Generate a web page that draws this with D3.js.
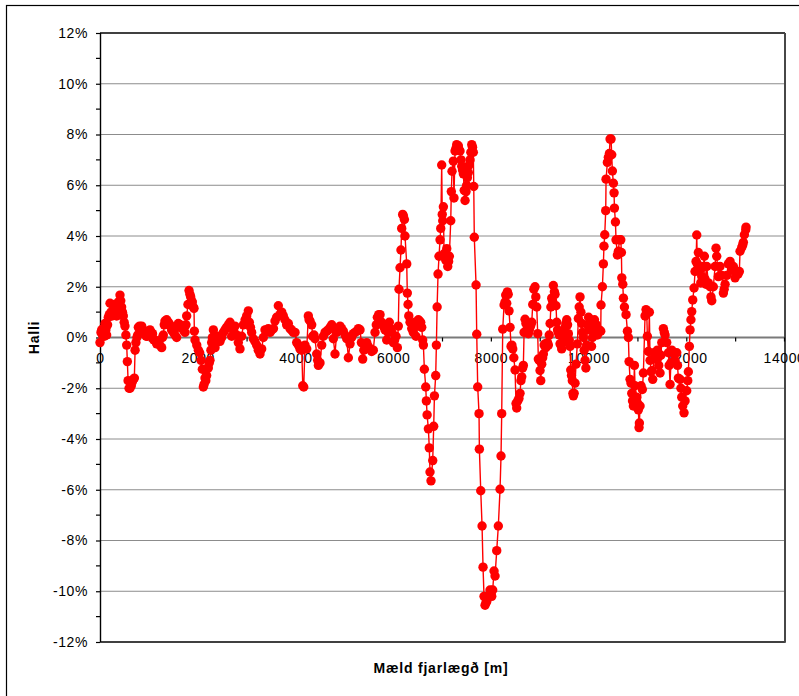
<!DOCTYPE html>
<html>
<head>
<meta charset="utf-8">
<script src="https://cdn.jsdelivr.net/npm/d3@7"></script>
<style>
  html, body { margin: 0; padding: 0; background: #fff; }
  svg { display: block; font-family: Arial, "Liberation Sans", sans-serif; }
</style>
</head>
<body>
<svg id="chart" width="799" height="696"></svg>
<script>
// Road gradient profile: measured distance [m] and slope [%]
const xTicks = [0, 1000, 2000, 3000, 4000, 5000, 6000, 7000, 8000, 9000, 10000, 11000, 12000, 13000, 14000];
const yTicks = [-12, -10, -8, -6, -4, -2, 0, 2, 4, 6, 8, 10, 12];
const yMinorTicks = [-11, -9, -7, -5, -3, -1, 1, 3, 5, 7, 9, 11];
const xTitle = "Mæld fjarlægð [m]";
const yTitle = "Halli";

const profileA = [
  [0,-0.2],[20,0.2],[34,0.3],[50,0.1],[68,0.35],[90,0.05],[102,0.55],[120,0.3],[136,0.1],[155,0.5],
  [170,0.8],[190,0.9],[205,1.35],[225,1.0],[245,0.85],[273,0.95],[290,1.3],[307,1.15],[325,0.9],[341,0.85],
  [360,1.1],[375,1.4],[395,1.3],[409,1.67],[425,1.45],[443,1.2],[460,1.0],[477,0.85],[495,0.6],[511,0.45],
  [530,0.1],[546,-0.3],[560,-0.95],[575,-1.7],[595,-2.0],[615,-2.0],[640,-1.9],[660,-1.75],[682,-1.65],[703,-1.6],
  [718,-0.5],[735,-0.2],[755,0.0],[771,0.1],[785,0.4],[810,0.45],[835,0.35],[853,0.45],[880,0.3],[900,0.2],
  [921,0.2],[945,0.05],[970,0.05],[1000,0.25],[1023,0.3],[1050,0.2],[1075,0.15],[1100,-0.1],[1126,-0.1],[1160,-0.25],
  [1190,-0.2],[1225,-0.3],[1262,-0.4],[1280,0.0],[1296,0.1],[1315,0.5],[1330,0.65],[1350,0.6],[1365,0.7],[1400,0.6],
  [1433,0.5],[1465,0.3],[1501,0.2],[1535,0.1],[1569,0.0],[1590,0.4],[1603,0.55],[1640,0.5],[1672,0.45],[1705,0.3],
  [1740,0.2],[1760,0.5],[1774,0.85],[1800,1.3],[1822,1.85],[1840,1.7],[1856,1.6],[1875,1.45],[1890,1.4],[1910,1.2],
  [1924,1.15],[1931,0.25],[1945,-0.1],[1980,-0.3],[2013,-0.5],[2040,-0.6],[2068,-0.9],[2095,-1.25],[2115,-1.95],[2130,-1.85],
  [2149,-1.6],[2165,-1.7],[2183,-1.5],[2200,-1.2],[2217,-1.2],[2235,-1.0],[2251,-0.9],[2270,-0.5],[2286,-0.2],[2300,0.0],
  [2320,0.3],[2354,-0.4],[2380,-0.2],[2408,0.0],[2430,0.05],[2456,-0.15],[2490,0.0],[2525,0.2],[2558,0.3],[2590,0.4],
  [2627,0.5],[2661,0.6],[2695,0.05],[2730,0.3],[2763,0.45],[2800,0.1],[2831,-0.2],[2865,-0.45],[2900,0.05],[2934,0.5],
  [2970,0.7],[3002,0.85],[3036,1.05],[3057,0.6],[3080,0.4],[3104,0.2],[3138,-0.05],[3170,-0.15],[3206,-0.3],[3240,-0.5],
  [3275,-0.65],[3309,-0.45],[3343,0.0],[3377,0.3],[3410,0.25],[3445,0.35],[3480,0.2],[3514,0.3],[3550,0.35],[3582,0.65],
  [3615,0.8],[3650,1.25],[3684,0.9],[3720,1.0],[3752,0.85],[3785,0.7],[3820,0.5],[3855,0.55],[3889,0.35],[3920,0.3],
  [3957,0.2]
];

const profileB = [
  [3992,0.2],[4026,-0.2],[4060,-0.3],[4094,-0.45],[4130,-0.5],[4150,-1.9],[4170,-1.95],[4196,-0.3],[4231,-0.45],[4264,0.85],
  [4280,0.7],[4299,0.65],[4333,0.5],[4353,0.05],[4380,0.1],[4401,-0.05],[4435,-0.65],[4455,-0.9],[4470,-1.1],[4503,-1.0],
  [4538,-0.3],[4571,0.05],[4606,0.2],[4640,0.25],[4673,0.3],[4710,0.4],[4743,0.5],[4776,-0.05],[4810,-0.65],[4845,0.2],
  [4880,0.35],[4913,0.45],[4945,0.35],[4980,0.25],[5015,0.1],[5050,-0.05],[5083,-0.8],[5118,-0.25],[5150,0.0],[5185,0.15],
  [5220,0.2],[5255,0.25],[5290,0.35],[5322,0.3],[5350,-0.2],[5377,-0.85],[5400,-0.5],[5425,-0.3],[5459,-0.2],[5490,-0.35],
  [5527,-0.45],[5560,-0.55],[5594,-0.5],[5629,0.2],[5655,0.5],[5677,0.8],[5705,0.9],[5732,0.9],[5766,0.6],[5800,0.45],
  [5834,0.3],[5868,-0.1],[5895,0.2],[5922,0.6],[5950,0.35],[5971,0.2],[6004,-0.2],[6030,-0.1],[6059,0.05],[6086,-0.4],
  [6106,0.45],[6120,1.9],[6141,2.75],[6160,3.45],[6175,4.3],[6195,4.85],[6209,4.8],[6230,4.65],[6243,4.0],[6278,2.9],
  [6290,1.75],[6305,1.3],[6320,0.85],[6346,0.6],[6380,0.35],[6413,0.2],[6448,0.6],[6468,0.05],[6490,0.45],[6516,0.7],
  [6540,0.65],[6564,0.6],[6585,0.4],[6605,-0.1],[6619,-0.3],[6639,-1.25],[6667,-1.95],[6680,-2.5],[6695,-3.05],[6721,-3.6],
  [6740,-4.35],[6755,-5.3],[6775,-5.65],[6810,-4.85],[6830,-3.5],[6845,-2.3],[6871,-1.5],[6885,-0.3],[6900,1.2],[6919,2.5],
  [6939,3.2],[6960,3.85],[6974,4.3],[6994,6.8],[7005,4.85],[7015,4.6],[7028,5.15],[7042,3.3],[7060,3.25],[7076,3.05],
  [7097,3.5],[7117,2.8],[7135,3.0],[7150,3.2],[7179,4.6],[7191,5.75],[7205,6.55],[7232,6.95],[7245,5.5],[7267,7.35]
];

const profileC = [
  [7285,7.45],[7301,7.6],[7320,7.5],[7335,7.55],[7350,7.4],[7369,7.35],[7390,7.0],[7404,6.75],[7420,6.6],[7437,6.45],
  [7455,5.8],[7472,5.4],[7492,5.75],[7505,6.0],[7519,6.3],[7539,6.5],[7555,6.8],[7574,7.0],[7590,7.3],[7609,7.6],
  [7625,7.5],[7641,7.3],[7650,5.95],[7661,3.95],[7697,2.07],[7711,0.13],[7731,-1.95],[7758,-3.0],[7765,-4.4],[7793,-6.04],
  [7820,-7.43],[7840,-9.05],[7860,-10.2],[7881,-10.55],[7900,-10.45],[7916,-10.4],[7949,-10.2],[7983,-9.95],[8000,-10.1],[8018,-10.2],
  [8038,-9.95],[8065,-9.2],[8086,-9.4],[8120,-8.4],[8153,-7.43],[8188,-5.98],[8208,-4.67],[8222,-3.0],[8243,0.33],[8270,1.28],
  [8290,1.4],[8304,1.67],[8325,1.35],[8338,1.8],[8355,1.7],[8372,1.05],[8393,0.4],[8413,-0.35],[8430,-0.3],[8448,-0.45],
  [8470,-0.8],[8495,-1.28],[8515,-2.6],[8529,-2.78],[8550,-2.5],[8575,-2.4],[8597,-2.2],[8615,-1.7],[8632,-1.55],[8650,-1.2],
  [8665,-1.1],[8680,0.2],[8700,0.72],[8718,0.55],[8734,0.3],[8750,0.35],[8768,0.15],[8785,0.3],[8802,0.4],[8820,0.5],
  [8837,0.6],[8857,1.3],[8880,1.9],[8904,2.0],[8920,1.6],[8939,1.2],[8959,0.15],[8972,-0.85],[8990,-0.9],[9007,-1.3],
  [9021,-1.7],[9041,-1.05],[9060,-0.8],[9075,-0.65],[9090,-0.3],[9109,-0.25],[9125,-0.4],[9143,-0.3],[9160,-0.2],[9177,-0.3],
  [9195,0.1],[9212,0.55],[9228,1.2],[9246,1.55],[9262,1.45],[9279,2.05],[9300,1.8],[9314,1.7],[9334,1.25],[9348,0.6],
  [9365,0.3],[9381,0.2],[9400,0.1],[9416,-0.25],[9435,-0.3],[9450,-0.45],[9468,-0.2],[9484,0.0],[9500,0.2],[9519,0.4],
  [9535,0.55],[9553,0.7],[9570,0.5],[9586,0.15],[9605,-0.1],[9621,-0.35],[9635,-1.28],[9650,-1.5],[9668,-1.7],[9680,-2.2],
  [9689,-2.3],[9705,-2.2],[9723,-1.8],[9743,-1.05],[9770,-0.25],[9791,0.75],[9808,1.2],[9825,1.6],[9843,1.0],[9860,0.55],
  [9876,0.2],[9893,0.0],[9910,-0.5],[9928,-0.9]
];

const profileD = [
  [9945,-1.2],[9960,-0.3],[9980,0.5],[10000,0.8],[10020,0.3],[10040,0.6],[10060,-0.35],[10080,0.0],[10100,0.45],[10120,0.7],
  [10140,0.3],[10160,0.5],[10180,0.1],[10200,0.2],[10220,0.3],[10249,0.25],[10255,1.28],[10283,2.0],[10303,2.9],[10315,3.6],
  [10331,4.05],[10351,5.0],[10358,6.24],[10385,6.9],[10405,7.1],[10426,7.25],[10440,7.82],[10460,7.82],[10474,7.2],[10487,6.56],
  [10508,6.08],[10522,5.7],[10529,5.1],[10550,4.55],[10562,3.85],[10590,3.25],[10610,3.4],[10631,3.85],[10659,3.85],[10672,3.35],
  [10680,2.35],[10700,2.1],[10713,1.55],[10734,1.2],[10767,0.9],[10795,0.25],[10815,0.0],[10829,-0.95],[10849,-1.65],[10870,-1.8],
  [10884,-2.2],[10900,-2.5],[10917,-2.7],[10938,-1.1],[10951,-1.9],[10986,-2.35],[11005,-2.6],[11019,-2.85],[11033,-3.55],[11040,-3.37],
  [11054,-2.7],[11074,-1.9],[11101,-2.05],[11122,-1.4],[11156,0.85],[11176,1.1],[11191,0.95],[11203,0.05],[11224,-0.55],[11244,1.0],
  [11259,-0.9],[11279,-1.35],[11300,-1.3],[11313,-1.65],[11340,-0.6],[11360,-0.7],[11381,-0.85],[11408,-0.5],[11420,-0.8],[11436,-1.1],
  [11463,-1.4],[11480,-0.7],[11498,-0.2],[11531,0.35],[11550,0.2],[11566,0.1],[11600,-0.2],[11634,-0.6],[11650,-1.1],[11668,-1.85],
  [11685,-1.0],[11703,-0.5],[11736,-0.6],[11770,-0.9],[11805,-0.6],[11820,-1.1],[11838,-1.6],[11873,-1.65],[11890,-2.0],[11907,-2.35],
  [11927,-2.7],[11954,-2.97],[11975,-2.5],[12009,-2.1],[12030,-1.7],[12042,-1.35],[12063,-0.35],[12077,0.3],[12095,0.7],[12111,1.02],
  [12132,1.48],[12159,1.95],[12179,2.6],[12200,3.0],[12214,4.04],[12226,2.9],[12247,3.35],[12268,2.6],[12296,2.15],[12316,2.4],
  [12349,2.8],[12370,3.2],[12384,2.3],[12400,2.1],[12419,2.8],[12452,2.15],[12487,2.0],[12505,1.6],[12521,1.45],[12554,2.0],
  [12589,2.8],[12609,3.52],[12623,3.2],[12657,2.4],[12691,2.8],[12726,2.45],[12759,1.75],[12775,1.9],[12794,2.1],[12828,2.45],
  [12861,2.9],[12896,3.0],[12931,2.65],[12964,2.8],[12998,2.35],[13033,2.55],[13060,2.5],[13086,2.6],[13100,3.4],[13135,3.55],
  [13155,3.65],[13168,3.75],[13189,4.05],[13217,4.25],[13223,4.35]
];

const profile = profileA.concat(profileB, profileC, profileD)
  .map(([distance, slope]) => ({ distance, slope }));

const svg = d3.select("#chart");
const plot = { left: 100, right: 784, top: 33, bottom: 642 };

const x = d3.scaleLinear().domain([0, 14000]).range([plot.left, plot.right]);
const y = d3.scaleLinear().domain([-12, 12]).range([plot.bottom, plot.top]);

// chart frame
svg.append("rect")
  .attr("x", 6.5).attr("y", 5.5)
  .attr("width", 820).attr("height", 720)
  .attr("fill", "#fff").attr("stroke", "#000").attr("stroke-width", 1.2);

// horizontal gridlines
svg.append("g")
  .selectAll("line")
  .data(yTicks.filter(v => v !== 0 && Math.abs(v) !== 12))
  .join("line")
  .attr("x1", plot.left).attr("x2", plot.right)
  .attr("y1", d => y(d)).attr("y2", d => y(d))
  .attr("stroke", "#8c8c8c").attr("stroke-width", 1);

// plot area border
svg.append("line")
  .attr("x1", plot.left).attr("x2", plot.right + 1)
  .attr("y1", plot.top).attr("y2", plot.top)
  .attr("stroke", "#000").attr("stroke-width", 1.4);
svg.append("line")
  .attr("x1", plot.left).attr("x2", plot.right + 1)
  .attr("y1", plot.bottom).attr("y2", plot.bottom)
  .attr("stroke", "#000").attr("stroke-width", 1.4);
svg.append("line")
  .attr("x1", plot.right + 1).attr("x2", plot.right + 1)
  .attr("y1", plot.top).attr("y2", plot.bottom + 0.7)
  .attr("stroke", "#474747").attr("stroke-width", 2);

// horizontal axis line at 0 %
svg.append("line")
  .attr("x1", plot.left).attr("x2", plot.right)
  .attr("y1", y(0)).attr("y2", y(0))
  .attr("stroke", "#7a7a7a").attr("stroke-width", 2);

// vertical axis
const yAxis = d3.axisLeft(y)
  .tickValues(yTicks)
  .tickFormat(d => d + "%")
  .tickSize(4)
  .tickPadding(8);
const gy = svg.append("g")
  .attr("transform", `translate(${plot.left},0)`)
  .call(yAxis);
gy.select(".domain").attr("stroke", "#000").attr("stroke-width", 1.4).attr("d", `M0.5,${plot.top}V${plot.bottom}`);
gy.selectAll(".tick line").attr("stroke", "#000").attr("stroke-width", 1.2);
gy.selectAll(".tick text")
  .attr("font-size", 14).attr("letter-spacing", 0.6).attr("fill", "#000")
  .attr("font-family", "Arial, 'Liberation Sans', sans-serif");

gy.append("g")
  .selectAll("line")
  .data(yMinorTicks)
  .join("line")
  .attr("x1", -4).attr("x2", 0)
  .attr("y1", d => y(d)).attr("y2", d => y(d))
  .attr("stroke", "#000").attr("stroke-width", 1.2);

// horizontal axis ticks and labels along the 0 % line
const xAxis = d3.axisBottom(x)
  .tickValues(xTicks)
  .tickFormat(d => d % 2000 === 0 ? String(d) : "")
  .tickSize(4)
  .tickPadding(12);
const gx = svg.append("g")
  .attr("transform", `translate(0,${y(0)})`)
  .call(xAxis);
gx.select(".domain").remove();
gx.selectAll(".tick line").attr("stroke", "#000").attr("stroke-width", 1.2);
gx.selectAll(".tick text")
  .attr("font-size", 14).attr("letter-spacing", 0.6).attr("fill", "#000")
  .attr("font-family", "Arial, 'Liberation Sans', sans-serif");

// slope line with markers
const line = d3.line().x(d => x(d.distance)).y(d => y(d.slope));
svg.append("path")
  .datum(profile)
  .attr("d", line)
  .attr("fill", "none")
  .attr("stroke", "#ff0000")
  .attr("stroke-width", 1.4);

svg.append("g")
  .selectAll("circle")
  .data(profile)
  .join("circle")
  .attr("cx", d => x(d.distance))
  .attr("cy", d => y(d.slope))
  .attr("r", 4.7)
  .attr("fill", "#ff0000");

// axis titles
svg.append("text")
  .attr("x", 441).attr("y", 673)
  .attr("text-anchor", "middle")
  .attr("font-size", 14).attr("font-weight", "bold").attr("letter-spacing", 0.8)
  .text(xTitle);

svg.append("text")
  .attr("transform", `translate(39,${y(0)}) rotate(-90)`)
  .attr("text-anchor", "middle")
  .attr("font-size", 14).attr("font-weight", "bold").attr("letter-spacing", 0.8)
  .text(yTitle);
</script>
</body>
</html>
